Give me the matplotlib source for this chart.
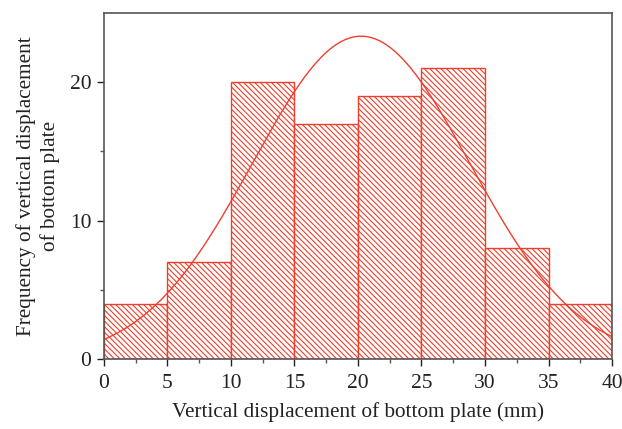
import numpy as np
import matplotlib.pyplot as plt

plt.rcParams['font.family'] = ['Liberation Serif', 'DejaVu Serif']
plt.rcParams['hatch.linewidth'] = 0.8

bin_edges = [0, 5, 10, 15, 20, 25, 30, 35, 40]
counts = [4, 7, 20, 17, 19, 21, 8, 4]
x_ticks = [0, 5, 10, 15, 20, 25, 30, 35, 40]
y_ticks = [0, 10, 20]

red = '#ee3f2c'


def normal_fit(edges, freq):
    # fitted normal curve scaled to the histogram counts
    mids = (np.array(edges[:-1]) + np.array(edges[1:])) / 2
    freq = np.array(freq)
    n = freq.sum()
    mean = (mids * freq).sum() / n
    sd = np.sqrt((freq * (mids - mean) ** 2).sum() / n)
    width = edges[1] - edges[0]
    xs = np.linspace(edges[0], edges[-1], 300)
    ys = n * width / (sd * np.sqrt(2 * np.pi)) * np.exp(-(xs - mean) ** 2 / (2 * sd ** 2))
    return xs, ys


fig = plt.figure(figsize=(6.22, 4.29), dpi=100)
ax = fig.add_axes([0.167, 0.163, 0.817, 0.807])

ax.bar(bin_edges[:-1], counts, width=np.diff(bin_edges), align='edge',
       facecolor='white', edgecolor=red, hatch='\\\\\\\\\\\\', linewidth=1.0)

xs, ys = normal_fit(bin_edges, counts)
ax.plot(xs, ys, color=red, linewidth=1.0)

ax.set_xlim(0, 40)
ax.set_ylim(0, 25)
ax.set_xticks(x_ticks)
ax.set_xticks(np.arange(2.5, 40, 5), minor=True)
ax.set_yticks(y_ticks)
ax.set_yticks([5, 15], minor=True)
ax.tick_params(direction='out', length=5, width=1, labelsize=15.5, colors='#222222', pad=4)
ax.tick_params(axis='x', pad=6)
ax.tick_params(which='minor', direction='out', length=3, width=1, colors='#555555')
for s in ax.spines.values():
    s.set_color('#555555')
    s.set_linewidth(1.2)

ax.set_xlabel('Vertical displacement of bottom plate (mm)', fontsize=15.3, color='#222222', labelpad=6)
ax.set_ylabel('Frequency of vertical displacement\nof bottom plate', fontsize=15.3, color='#222222',
              labelpad=7, linespacing=1.3)

fig.savefig('out.png', dpi=100)
